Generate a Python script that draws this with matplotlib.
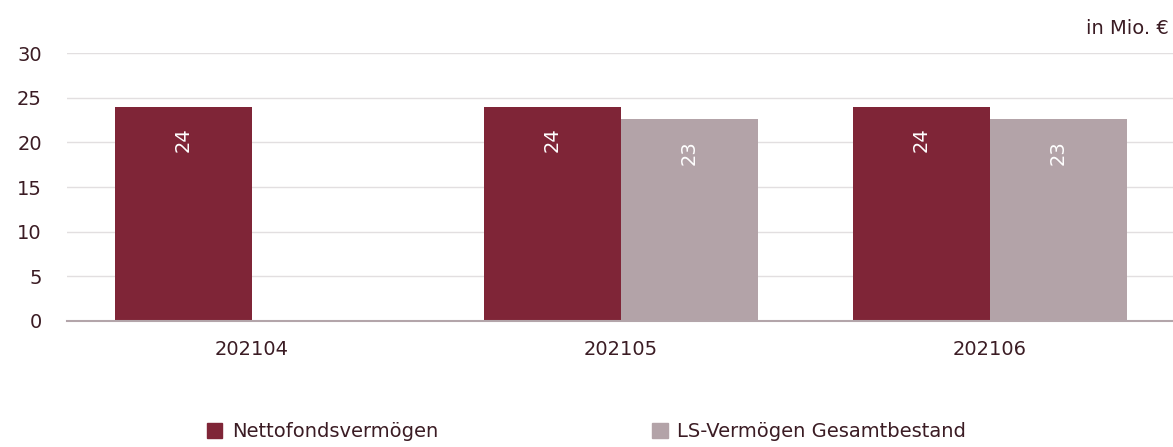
import matplotlib
matplotlib.use('Agg')
from matplotlib import pyplot as plt
from matplotlib.patches import Patch
import numpy as np

# data
months = ['202104', '202105', '202106']
netto = [24.0, 24.0, 24.0]
ls_verm = [np.nan, 22.6, 22.6]
netto_labels = ['24', '24', '24']
ls_labels = ['', '23', '23']
series_names = ['Nettofondsvermögen', 'LS-Vermögen Gesamtbestand']
yticks = [0, 5, 10, 15, 20, 25, 30]

red = '#7f2537'
grey = '#b3a3a8'
txt = '#3b1c24'

plt.rcParams['font.family'] = ['DejaVu Sans']

fig = plt.figure(figsize=(11.73, 4.47), dpi=100)
ax = fig.add_axes([0.057, 0.282, 0.943, 0.599])

x = np.arange(len(months))
w = 0.371

b1 = ax.bar(x - w / 2, netto, w, color=red, zorder=3)
b2 = ax.bar(x + w / 2, ls_verm, w, color=grey, zorder=3)

for bars, labels in ((b1, netto_labels), (b2, ls_labels)):
    for rect, lab in zip(bars, labels):
        if not lab:
            continue
        ax.annotate(lab, (rect.get_x() + rect.get_width() / 2, rect.get_height()),
                    xytext=(0, -15), textcoords='offset points',
                    rotation=90, ha='center', va='top',
                    color='white', fontsize=14, zorder=4)

ax.set_xlim(-0.501, 2.496)
ax.set_ylim(0, 30)
ax.set_yticks(yticks)
ax.set_xticks(x)
ax.set_xticklabels(months)
ax.tick_params(axis='both', length=0, labelsize=14, colors=txt)
ax.tick_params(axis='y', pad=18)
ax.tick_params(axis='x', pad=14)

ax.yaxis.grid(True, color='#e2dfe0', linewidth=1, zorder=0)
for s in ['top', 'right', 'left']:
    ax.spines[s].set_visible(False)
ax.spines['bottom'].set_color('#b3a5aa')
ax.spines['bottom'].set_linewidth(1.5)
ax.spines['bottom'].set_zorder(5)

fig.text(0.996, 0.937, 'in Mio. €', ha='right', va='center',
         fontsize=14, color=txt)

handles = [Patch(color=red), Patch(color=grey)]
leg = fig.legend(handles, series_names, loc='center', bbox_to_anchor=(0.5, 0.034),
                 ncol=2, frameon=False, fontsize=14, handlelength=0.8,
                 handleheight=0.8, handletextpad=0.5, columnspacing=11)
for t in leg.get_texts():
    t.set_color(txt)

fig.savefig('out.png', dpi=100)
